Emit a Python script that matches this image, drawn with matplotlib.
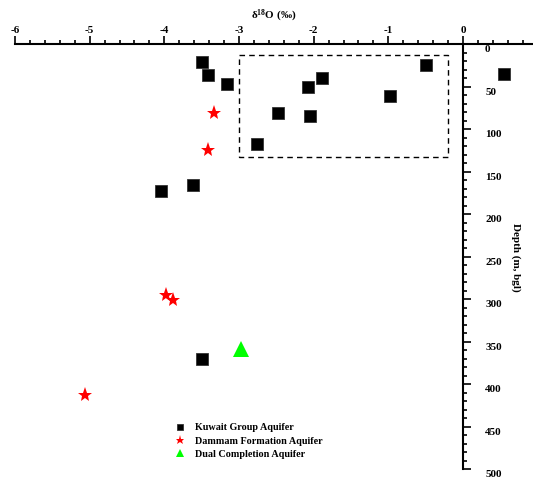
import numpy as np
import matplotlib
matplotlib.use('Agg')
import matplotlib.pyplot as plt
from matplotlib.patches import Rectangle
from matplotlib.ticker import MultipleLocator
import matplotlib.transforms as mtransforms

plt.rcParams['font.family'] = ['Liberation Serif', 'DejaVu Serif']
plt.rcParams['font.weight'] = 'bold'
plt.rcParams['mathtext.default'] = 'regular'

# Kuwait Group Aquifer
kuwait_d18o = [-3.49, -3.41, -3.16, -2.08, -1.89, -2.48, -2.05, -0.98, -0.50, 0.55, -2.76, -3.61, -4.04, -3.50]
kuwait_depth = [21, 37, 47, 51, 40, 81, 85, 61, 25, 35, 118, 166, 173, 371]

# Dammam Formation Aquifer
dammam_d18o = [-3.33, -3.41, -3.98, -3.88, -5.06]
dammam_depth = [81, 125, 295, 301, 413]

# Dual Completion Aquifer
dual_d18o = [-2.97]
dual_depth = [359]

# dashed box (x0, depth0, width, height)
box = (-3.0, 13, 2.8, 120)

fig = plt.figure(figsize=(5.33, 4.78), dpi=100)
ax = fig.add_axes([15/533, 9/478, 518/533, 425/478])

ax.plot(kuwait_d18o, kuwait_depth, 's', color='black', markersize=8.5,
        markeredgecolor='#333333', markeredgewidth=0.6, label='Kuwait Group Aquifer', clip_on=False)
ax.plot(dammam_d18o, dammam_depth, '*', color='red', markersize=11,
        markeredgewidth=0, label='Dammam Formation Aquifer', clip_on=False)
ax.plot(dual_d18o, dual_depth, '^', color='#00ff00', markersize=11.5,
        markeredgewidth=0, label='Dual Completion Aquifer', clip_on=False)

ax.add_patch(Rectangle((box[0], box[1]), box[2], box[3], fill=False,
                       linestyle=(0, (4, 3)), linewidth=1, edgecolor='black'))

ax.set_xlim(-6, 70/74.67)
ax.set_ylim(500, 0)

# axes cross at x=0 (depth axis) and depth 0 (top)
ax.spines['left'].set_visible(False)
ax.spines['bottom'].set_visible(False)
ax.spines['right'].set_position(('data', 0))
ax.spines['right'].set_bounds(0, 500)
ax.spines['top'].set_linewidth(1.5)
ax.spines['right'].set_linewidth(1.5)

ax.xaxis.tick_top()
ax.xaxis.set_label_position('top')
ax.set_xticks(np.arange(-6, 1, 1))
ax.set_xticklabels(['-6', '-5', '-4', '-3', '-2', '-1', '0'])
ax.xaxis.set_minor_locator(MultipleLocator(0.2))
ax.tick_params(axis='x', which='major', direction='out', length=5.5, width=1.2, labelsize=8, pad=1)
ax.tick_params(axis='x', which='minor', direction='out', length=3, width=1.2)

ax.yaxis.tick_right()
ax.yaxis.set_label_position('right')
ax.yaxis.set_major_locator(MultipleLocator(50))
ax.yaxis.set_minor_locator(MultipleLocator(10))
ax.tick_params(axis='y', which='major', direction='out', length=5.5, width=1.2, labelsize=8, pad=10.4)
ax.tick_params(axis='y', which='minor', direction='out', length=3, width=1.2)
offset = mtransforms.ScaledTranslation(0, -3.3/72, fig.dpi_scale_trans)
for lab in ax.get_yticklabels():
    lab.set_transform(lab.get_transform() + offset)

ax.set_xlabel(r'δ$^{18}$O (‰)', fontsize=8, fontweight='bold', labelpad=5)
ax.set_ylabel('Depth (m, bgl)', fontsize=8, fontweight='bold', rotation=-90)
ax.yaxis.set_label_coords((521-15)/518, (469-257)/425)

leg = ax.legend(loc='upper left', bbox_to_anchor=(164/533, 1-426.5/478), frameon=False,
                fontsize=7.3, handlelength=1.2, handletextpad=0.8,
                labelspacing=0.42, borderpad=0, borderaxespad=0)
# smaller symbols in the legend
for h, ms in zip(leg.legend_handles, [4, 6.5, 6]):
    h.set_markersize(ms)

fig.savefig('out.png', dpi=100)
